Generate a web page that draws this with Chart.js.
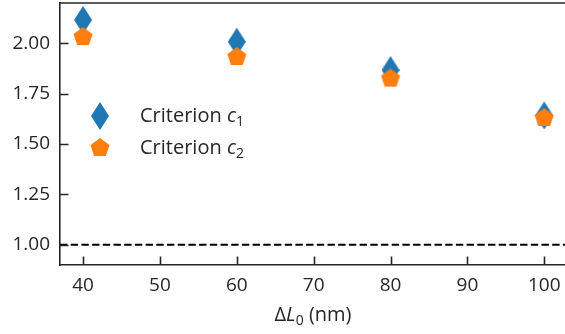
<!DOCTYPE html>
<html><head><meta charset="utf-8">
<script src="https://cdn.jsdelivr.net/npm/chart.js@4/dist/chart.umd.min.js"></script>
<style>html,body{margin:0;padding:0;background:#fff;overflow:hidden}</style>
</head><body>
<canvas id="c" width="565" height="334" style="display:block;width:565px;height:334px"></canvas>
<script>
// ---- data ----
const deltaL0 = [40, 60, 80, 100];
const criterionC1 = [2.116, 2.008, 1.867, 1.642];
const criterionC2 = [2.031, 1.932, 1.825, 1.629];
const referenceLevel = 1.0;
const xTicks = [40, 50, 60, 70, 80, 90, 100];
const yTicks = [1.00, 1.25, 1.50, 1.75, 2.00];
const seriesLabels = ['Criterion c_1', 'Criterion c_2'];
const xTitle = 'ΔL_0 (nm)';

// ---- style ----
const FONT = '"Open Sans", "Noto Sans", sans-serif';
const INK = '#262626';
const BLUE = '#1f77b4', ORANGE = '#ff7f0e';

function makeDiamond(w, h, color) {
  const c = document.createElement('canvas'); c.width = w; c.height = h;
  const g = c.getContext('2d'); g.fillStyle = color;
  g.beginPath(); g.moveTo(w/2, 0); g.lineTo(w, h/2); g.lineTo(w/2, h); g.lineTo(0, h/2); g.closePath(); g.fill();
  return c;
}
function makePentagon(R, color) {
  const s = Math.ceil(2*R) + 2;
  const c = document.createElement('canvas'); c.width = s; c.height = s;
  const g = c.getContext('2d'); g.fillStyle = color; g.beginPath();
  for (let i = 0; i < 5; i++) {
    const a = -Math.PI/2 + i * 2*Math.PI/5;
    const x = s/2 + R*Math.cos(a), y = s/2 + R*Math.sin(a);
    i ? g.lineTo(x, y) : g.moveTo(x, y);
  }
  g.closePath(); g.fill();
  return c;
}
const diamond = makeDiamond(18, 28, BLUE);
const pentagon = makePentagon(10, ORANGE);

// draw "text var_sub" style strings: plain, italic variable, subscript
function drawMath(ctx, str, x, y, size, align) {
  const parts = [];
  const m = str.match(/^(.*?)([A-Za-z])_(\w)(.*)$/);
  if (m) {
    parts.push({t: m[1], f: `${size}px ${FONT}`, dy: 0});
    parts.push({t: m[2], f: `italic ${size}px ${FONT}`, dy: 0});
    parts.push({t: m[3], f: `${Math.round(size*0.7)}px ${FONT}`, dy: size*0.22});
    parts.push({t: m[4], f: `${size}px ${FONT}`, dy: 0});
  } else parts.push({t: str, f: `${size}px ${FONT}`, dy: 0});
  let total = 0;
  parts.forEach(p => { ctx.font = p.f; p.w = ctx.measureText(p.t).width; total += p.w; });
  let cx = align === 'center' ? x - total/2 : x;
  ctx.textBaseline = 'alphabetic'; ctx.textAlign = 'left';
  parts.forEach(p => { ctx.font = p.f; ctx.fillText(p.t, cx, y + p.dy); cx += p.w; });
}

const extras = {
  id: 'extras',
  beforeDatasetsDraw(chart) {
    const {ctx, chartArea: a, scales: {y}} = chart;
    const py = y.getPixelForValue(referenceLevel);
    ctx.save();
    ctx.strokeStyle = '#000'; ctx.lineWidth = 2; ctx.setLineDash([7.4, 3.3]);
    ctx.beginPath(); ctx.moveTo(a.left, py); ctx.lineTo(a.right, py); ctx.stroke();
    ctx.restore();
  },
  afterDraw(chart) {
    const {ctx, chartArea: a, scales: {x, y}} = chart;
    ctx.save();
    ctx.strokeStyle = INK; ctx.lineWidth = 1.6;
    ctx.beginPath(); ctx.moveTo(a.left, a.top); ctx.lineTo(a.right, a.top); ctx.stroke();
    ctx.beginPath();
    xTicks.forEach(v => { const px = Math.round(x.getPixelForValue(v)) + 0.5; ctx.moveTo(px, a.bottom); ctx.lineTo(px, a.bottom - 8.5); });
    yTicks.forEach(v => { const py = Math.round(y.getPixelForValue(v)) + 0.5; ctx.moveTo(a.left, py); ctx.lineTo(a.left + 8.5, py); });
    ctx.stroke();
    // legend
    const imgs = [diamond, pentagon];
    ctx.fillStyle = INK;
    seriesLabels.forEach((lab, i) => {
      const cy = 116 + i*32;
      const im = imgs[i];
      ctx.drawImage(im, 100 - im.width/2, cy - im.height/2);
      drawMath(ctx, lab, 140, cy + 6, 20, 'left');
    });
    // x title
    drawMath(ctx, xTitle, 313, 321, 20, 'center');
    ctx.restore();
  }
};

const chart = new Chart(document.getElementById('c'), {
  type: 'scatter',
  data: {
    datasets: [
      {label: seriesLabels[0], data: deltaL0.map((v, i) => ({x: v, y: criterionC1[i]})), pointStyle: diamond, order: 1, backgroundColor: BLUE, borderColor: BLUE},
      {label: seriesLabels[1], data: deltaL0.map((v, i) => ({x: v, y: criterionC2[i]})), pointStyle: pentagon, order: 0, backgroundColor: ORANGE, borderColor: ORANGE}
    ]
  },
  options: {
    responsive: false, animation: false, events: [],
    layout: {autoPadding: false, padding: {top: 3, right: 0, left: 0, bottom: 0}},
    plugins: {legend: {display: false}, tooltip: {enabled: false}},
    scales: {
      x: {
        type: 'linear', min: 37, max: 102.7,
        afterBuildTicks: s => { s.ticks = xTicks.map(v => ({value: v})); },
        afterFit: s => { s.height = 69; s.paddingLeft = 0; s.paddingRight = 0; s.paddingTop = 0; s.paddingBottom = 0; },
        grid: {display: false, drawTicks: false},
        border: {display: true, color: INK, width: 1.6},
        ticks: {font: {family: FONT, size: 19}, color: INK, padding: 9, maxRotation: 0, callback: v => String(v)}
      },
      y: {
        type: 'linear', min: 0.9, max: 2.2,
        afterBuildTicks: s => { s.ticks = yTicks.map(v => ({value: v})); },
        afterFit: s => { s.width = 60; s.paddingLeft = 0; s.paddingRight = 0; s.paddingTop = 0; s.paddingBottom = 0; },
        grid: {display: false, drawTicks: false},
        border: {display: true, color: INK, width: 1.6},
        ticks: {font: {family: FONT, size: 19}, color: INK, padding: 10, callback: v => v.toFixed(2)}
      }
    }
  },
  plugins: [extras]
});
</script>
</body></html>
